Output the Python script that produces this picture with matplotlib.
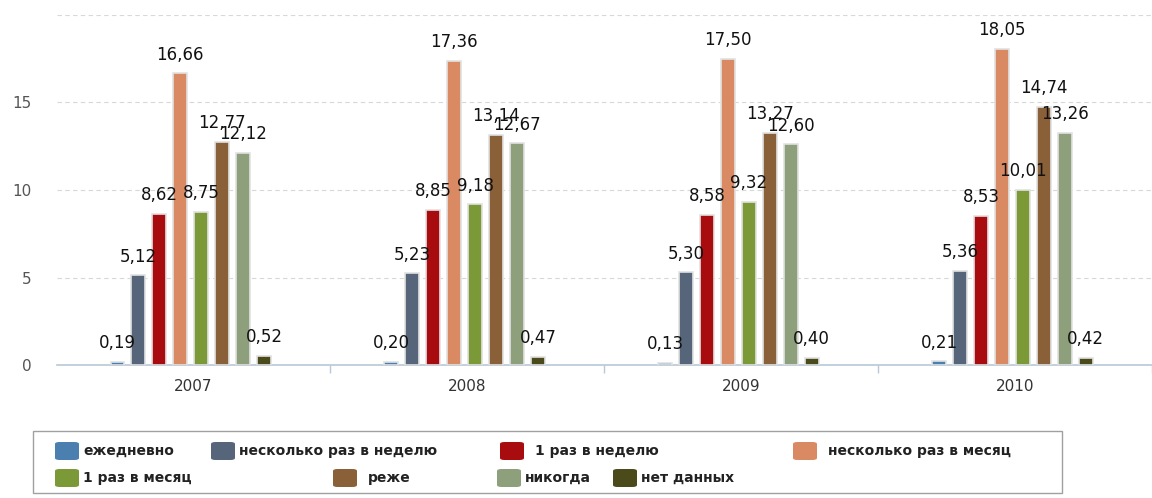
import matplotlib

matplotlib.use("Agg")
import matplotlib.pyplot as plt
from matplotlib.patches import FancyBboxPatch, Rectangle
import numpy as np

years = ["2007", "2008", "2009", "2010"]
series = ["ежедневно", "несколько раз в неделю", "1 раз в неделю", "несколько раз в месяц",
          "1 раз в месяц", "реже", "никогда", "нет данных"]
daily = [0.19, 0.20, 0.13, 0.21]
few_week = [5.12, 5.23, 5.30, 5.36]
once_week = [8.62, 8.85, 8.58, 8.53]
few_month = [16.66, 17.36, 17.50, 18.05]
once_month = [8.75, 9.18, 9.32, 10.01]
rarely = [12.77, 13.14, 13.27, 14.74]
never = [12.12, 12.67, 12.60, 13.26]
no_data = [0.52, 0.47, 0.40, 0.42]
values = [daily, few_week, once_week, few_month, once_month, rarely, never, no_data]
colors = ["#4a7fb0", "#56657a", "#a80c0e", "#d98a63", "#7b9a37", "#8a6038", "#8ea07b", "#4b4a1b"]

W, H = 1152, 498
fig = plt.figure(figsize=(W / 100, H / 100), dpi=100)
ax = fig.add_axes([56.5 / W, 1 - 365 / H, 1 - 56.5 / W, 350 / H])

x = np.arange(len(years))
step, width = 0.0765, 0.05
for i, (vals, c) in enumerate(zip(values, colors)):
    pos = x + (i - 3.5) * step - 0.01
    ax.bar(pos, vals, width, color=c, edgecolor="#e2e2e2", linewidth=1.2, zorder=3)
    for xp, v in zip(pos, vals):
        ax.annotate(f"{v:.2f}".replace(".", ","), (xp, v), xytext=(0, 7),
                    textcoords="offset points", ha="center", va="bottom",
                    fontsize=12, color="#111111", zorder=5)

ax.set_xlim(-0.5, -0.5 + (W - 56.5) / 275.5)
ax.set_ylim(0, 20)
ax.set_yticks([0, 5, 10, 15])
ax.set_yticks([20], minor=True)
ax.tick_params(axis="y", length=0, labelsize=11, labelcolor="#555555", pad=18)
ax.tick_params(axis="y", which="minor", length=0)
ax.grid(axis="y", which="both", color="#d8d8d8", linestyle=(0, (4, 3)), linewidth=0.8, zorder=0)
ax.set_xticks(x)
ax.set_xticklabels(years)
ax.tick_params(axis="x", length=0, labelsize=11, labelcolor="#333333", pad=10)
ax.set_xticks(np.arange(len(years)) + 0.5, minor=True)
ax.tick_params(axis="x", which="minor", length=6, color="#b8c8d8", width=1)
for s in ["top", "right", "left"]:
    ax.spines[s].set_visible(False)
ax.spines["bottom"].set_color("#b8c8d8")
ax.spines["bottom"].set_linewidth(1.2)

# legend box laid out like the original (irregular columns)
fig.patches.append(Rectangle((33 / W, 1 - 493 / H), (1062 - 33) / W, 62 / H,
                             transform=fig.transFigure, fill=False, edgecolor="#a0a0a0", lw=1))
slots = [(55, 451), (211, 451), (500, 451), (793, 451),
         (55, 478), (333, 478), (497, 478), (613, 478)]
for (px, py), name, c in zip(slots, series, colors):
    fig.patches.append(FancyBboxPatch((px / W, 1 - (py + 9) / H), 24 / W, 18 / H,
                                      boxstyle="round,pad=0,rounding_size=0.004",
                                      transform=fig.transFigure, facecolor=c, edgecolor="none"))
    gap = 9 if name in ("1 раз в неделю", "несколько раз в месяц", "реже") else 2
    fig.text((px + 26 + gap) / W, 1 - py / H, name, fontsize=10, fontweight="bold",
             color="#222222", va="center", ha="left")

fig.savefig("out.png", dpi=100, facecolor="white")
